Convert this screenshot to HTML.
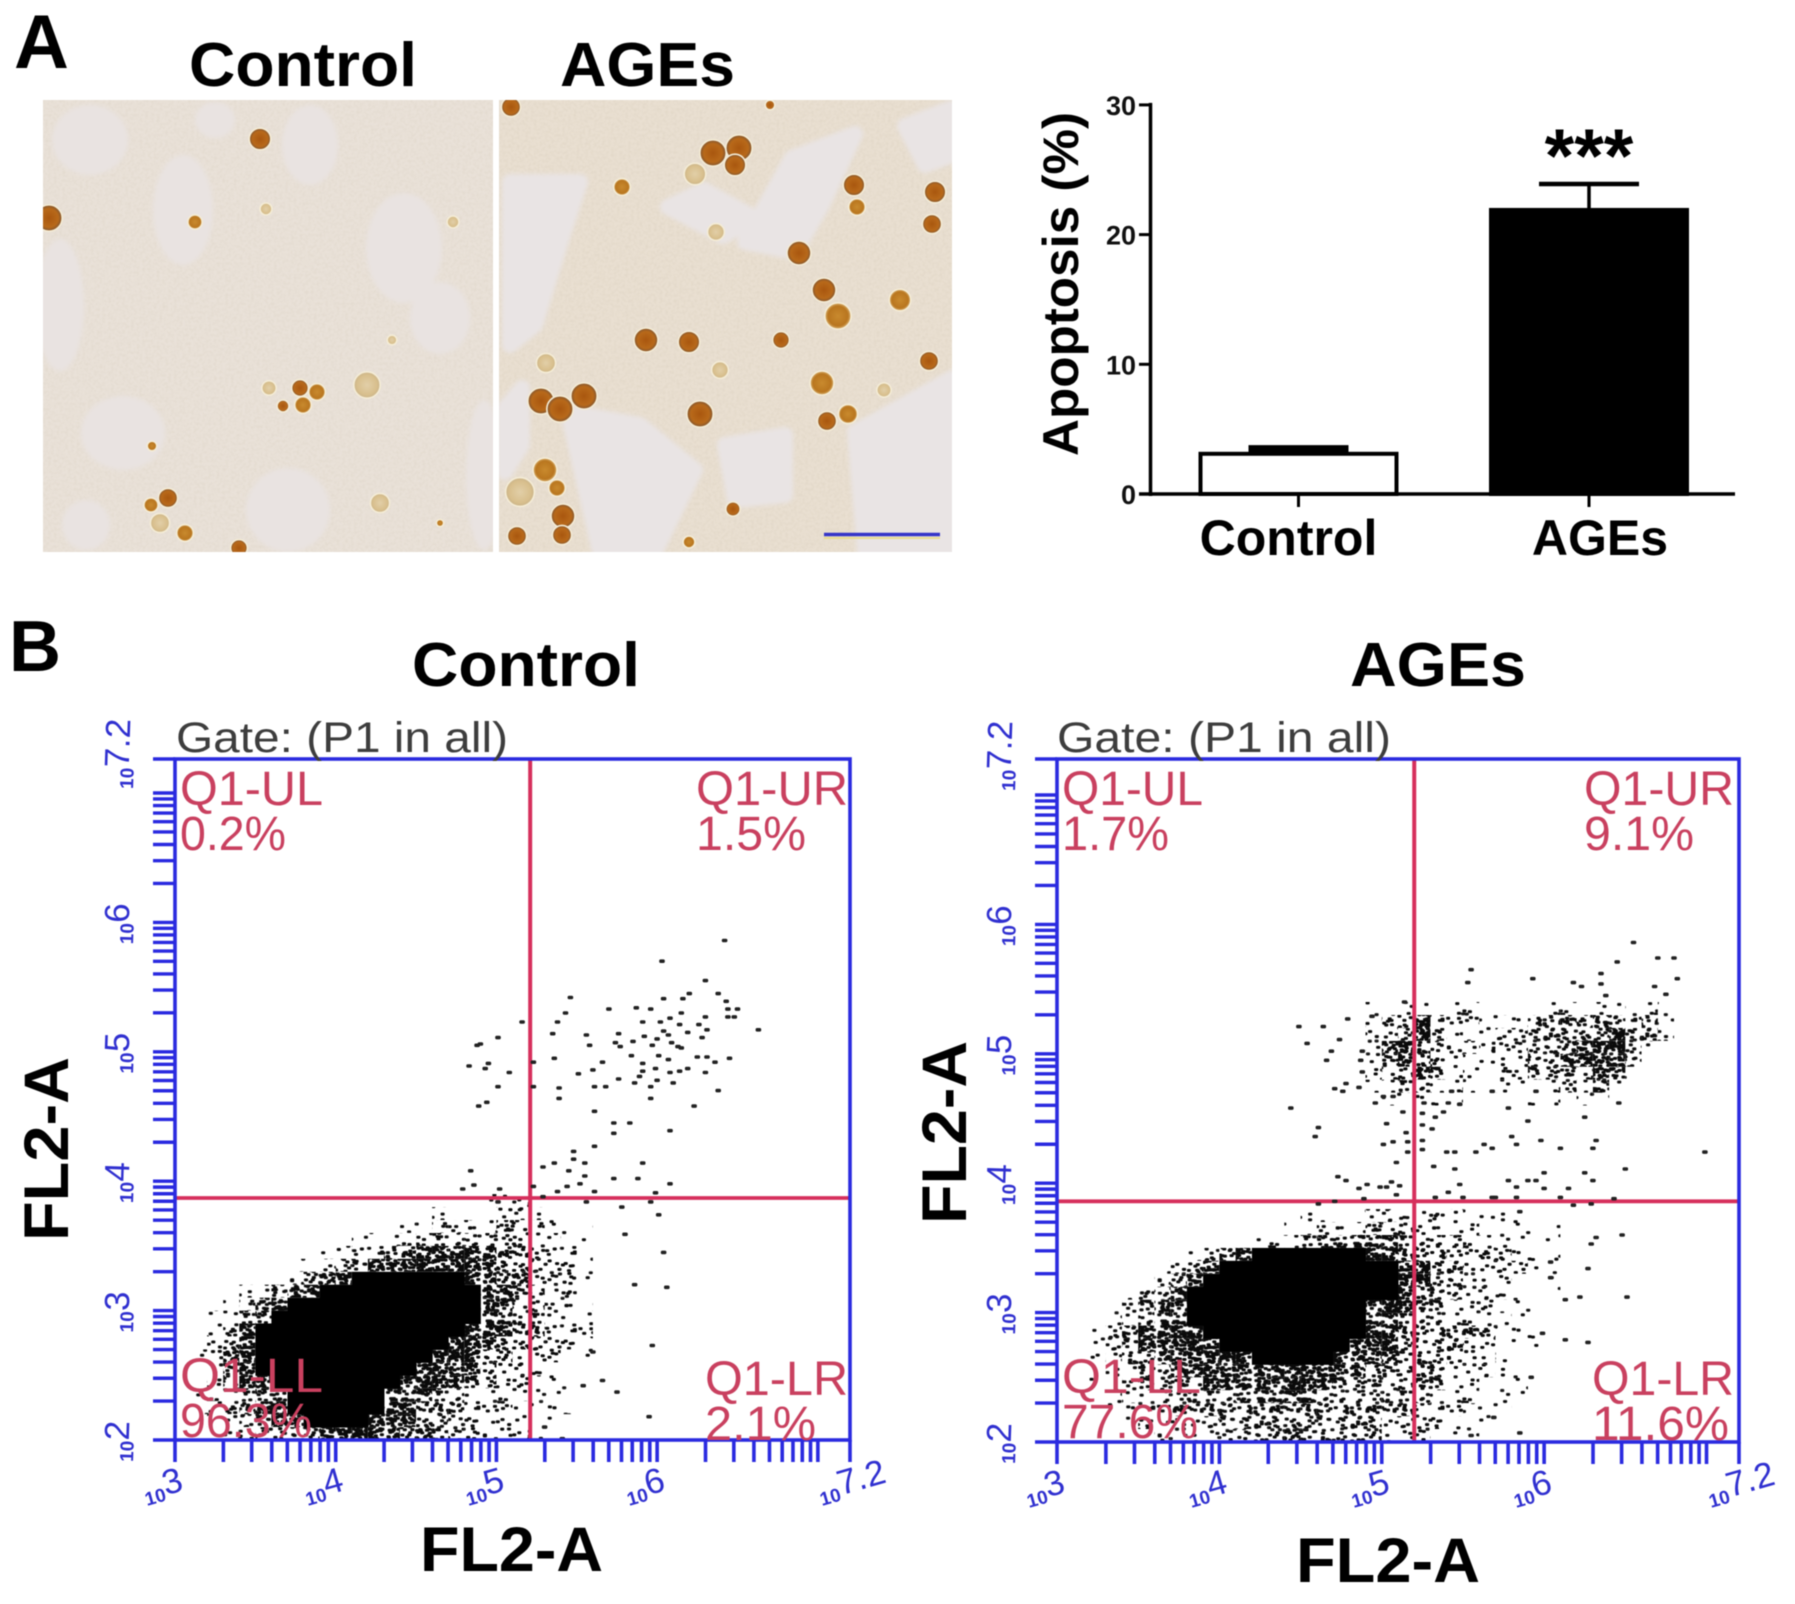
<!DOCTYPE html>
<html lang="en">
<head>
<meta charset="utf-8">
<title>AGEs apoptosis figure</title>
<style>
html,body{margin:0;padding:0;background:#fff;}
#figure{display:block;width:1795px;height:1604px;filter:blur(0.6px);}
text{font-family:"Liberation Sans",Arial,sans-serif;}
.h{font-weight:bold;fill:#000;}
.q{font-size:48px;fill:#c9405f;}
.g{font-size:43px;fill:#3d3d3d;}
</style>
</head>
<body>
<svg id="figure" xmlns="http://www.w3.org/2000/svg" width="1795" height="1604" viewBox="0 0 1795 1604">
  <defs id="defs">
    <clipPath id="clip-photo-1"><rect x="43" y="100" width="450" height="452"/></clipPath>
    <clipPath id="clip-photo-2"><rect x="499" y="100" width="453" height="452"/></clipPath>
    <radialGradient id="cell-dark"><stop offset="0" stop-color="#a9570f"/><stop offset=".7" stop-color="#b8691a"/><stop offset="1" stop-color="#7d5330"/></radialGradient>
    <radialGradient id="cell-mid"><stop offset="0" stop-color="#c98a2e"/><stop offset=".75" stop-color="#b9761f"/><stop offset="1" stop-color="#d9b271"/></radialGradient>
    <radialGradient id="cell-pale"><stop offset="0" stop-color="#e2cfa8"/><stop offset=".75" stop-color="#d8bf8d"/><stop offset="1" stop-color="#c9b38a"/></radialGradient>
    <filter id="grain" x="0" y="0" width="100%" height="100%"><feTurbulence type="fractalNoise" baseFrequency="0.35" numOctaves="2" seed="4"/><feColorMatrix type="matrix" values="0 0 0 0 .55  0 0 0 0 .48  0 0 0 0 .36  0 0 0 1.1 -.42"/></filter>
    <filter id="soft" x="-10%" y="-10%" width="120%" height="120%"><feGaussianBlur stdDeviation="2"/></filter>
  </defs>

  <!-- Panel A -->
  <text class="h" x="14" y="68" font-size="76">A</text>
  <text class="h" x="189" y="86" font-size="62" textLength="228" lengthAdjust="spacingAndGlyphs">Control</text>
  <text class="h" x="560" y="86" font-size="62" textLength="175" lengthAdjust="spacingAndGlyphs">AGEs</text>

  <g id="photo-1" clip-path="url(#clip-photo-1)">
    <rect x="43" y="100" width="450" height="452" fill="#e9e1d8"/>
    <rect x="43" y="100" width="450" height="452" filter="url(#grain)" opacity=".3"/>
    <g id="photo-1-patches" fill="#e9e3e1" filter="url(#soft)"></g>
    <g id="photo-1-cells"></g>
  </g>
  <g id="photo-2" clip-path="url(#clip-photo-2)">
    <rect x="499" y="100" width="453" height="452" fill="#e9dfd1"/>
    <rect x="499" y="100" width="453" height="452" filter="url(#grain)" opacity=".35"/>
    <g id="photo-2-patches" fill="#e9e4e4" stroke="#e9e4e4" stroke-width="16" stroke-linejoin="round" filter="url(#soft)"></g>
    <g id="photo-2-cells"></g>
    <line x1="824" y1="538" x2="940" y2="538" stroke="#e8dc90" stroke-width="2"/>
    <line x1="824" y1="534.5" x2="940" y2="534.5" stroke="#3535c8" stroke-width="3.5"/>
  </g>

  <g id="bar-chart"></g>
  <text class="h" transform="translate(1078,456) rotate(-90)" font-size="50" textLength="344" lengthAdjust="spacingAndGlyphs">Apoptosis  (%)</text>
  <text class="h" x="1589" y="182" font-size="76" text-anchor="middle">***</text>

  <!-- Panel B -->
  <text class="h" x="9" y="671" font-size="72">B</text>
  <text class="h" x="412" y="686" font-size="62" textLength="228" lengthAdjust="spacingAndGlyphs">Control</text>
  <text class="h" x="1350" y="686" font-size="62" textLength="176" lengthAdjust="spacingAndGlyphs">AGEs</text>

  <g id="plot-control"></g>
  <g id="plot-ages"></g>

  <text class="g" x="176" y="752" textLength="332" lengthAdjust="spacingAndGlyphs">Gate: (P1 in all)</text>
  <text class="q" x="180" y="805" textLength="143" lengthAdjust="spacingAndGlyphs">Q1-UL</text>
  <text class="q" x="180" y="850" textLength="106" lengthAdjust="spacingAndGlyphs">0.2%</text>
  <text class="q" x="696" y="805" textLength="152" lengthAdjust="spacingAndGlyphs">Q1-UR</text>
  <text class="q" x="696" y="850" textLength="110" lengthAdjust="spacingAndGlyphs">1.5%</text>
  <text class="q" x="180" y="1392" textLength="143" lengthAdjust="spacingAndGlyphs">Q1-LL</text>
  <text class="q" x="180" y="1437" textLength="132" lengthAdjust="spacingAndGlyphs">96.3%</text>
  <text class="q" x="705" y="1395" textLength="143" lengthAdjust="spacingAndGlyphs">Q1-LR</text>
  <text class="q" x="705" y="1440" textLength="111" lengthAdjust="spacingAndGlyphs">2.1%</text>

  <text class="g" x="1057" y="752" textLength="334" lengthAdjust="spacingAndGlyphs">Gate: (P1 in all)</text>
  <text class="q" x="1062" y="805" textLength="141" lengthAdjust="spacingAndGlyphs">Q1-UL</text>
  <text class="q" x="1062" y="850" textLength="107" lengthAdjust="spacingAndGlyphs">1.7%</text>
  <text class="q" x="1584" y="805" textLength="150" lengthAdjust="spacingAndGlyphs">Q1-UR</text>
  <text class="q" x="1584" y="850" textLength="110" lengthAdjust="spacingAndGlyphs">9.1%</text>
  <text class="q" x="1062" y="1393" textLength="139" lengthAdjust="spacingAndGlyphs">Q1-LL</text>
  <text class="q" x="1062" y="1438" textLength="136" lengthAdjust="spacingAndGlyphs">77.6%</text>
  <text class="q" x="1592" y="1395" textLength="142" lengthAdjust="spacingAndGlyphs">Q1-LR</text>
  <text class="q" x="1592" y="1440" textLength="137" lengthAdjust="spacingAndGlyphs">11.6%</text>

  <text class="h" transform="translate(68,1241) rotate(-90)" font-size="63" textLength="184" lengthAdjust="spacingAndGlyphs">FL2-A</text>
  <text class="h" x="420" y="1571" font-size="63" textLength="183" lengthAdjust="spacingAndGlyphs">FL2-A</text>
  <text class="h" transform="translate(966,1224) rotate(-90)" font-size="63" textLength="183" lengthAdjust="spacingAndGlyphs">FL2-A</text>
  <text class="h" x="1296" y="1582" font-size="63" textLength="184" lengthAdjust="spacingAndGlyphs">FL2-A</text>
</svg>

<script>
// ---- Bar chart data ----
const barCategories = ['Control', 'AGEs'];
const barMeans = [3.1, 21.9];
const barErrors = [0.4, 2.0];
const barTicks = [0, 10, 20, 30];

// ---- Flow cytometry data: log10(FL2-A) values ----
const flowXTicks = [3, 4, 5, 6, 7.2];
const flowYTicks = [2, 3, 4, 5, 6, 7.2];
const controlGateX = 5.21;
const controlGateY = 3.87;
const agesGateX = 5.2;
const agesGateY = 3.86;

// Event density per 0.1 x 0.1 decade cell (0 empty ... 5 solid), rows top to bottom, from x=3, top y=3.9
const controlDensity = [
  "000000000000000000111100000",
  "000000000000000011112211100",
  "000000000000001122223321110",
  "000000000001122333333322110",
  "000000000112233444443322210",
  "000000011233444444443322210",
  "000000123345555555443322210",
  "000012344555555555544332210",
  "000123455555555555544332210",
  "001234555555555555544332220",
  "001245555555555555444332220",
  "002345555555555554443322210",
  "012345555555555544433222110",
  "012345555555555444432221110",
  "012344555555554444332211100",
  "012234455555544433222211100",
  "011234455555544333222111100",
  "001123445555444332222111000",
  "000112233444443332222111000"
];
// Rows top to bottom, from x=3, top y=3.8
const agesDensity = [
  "00000000000000011112222221111100",
  "00000000000000112223332222111110",
  "00000000000012234444433332211110",
  "00000000123455555554433322221110",
  "00000012345555555555544332222110",
  "00000123455555555555544332221110",
  "00001234555555555555543332221110",
  "00012344555555555554443322211100",
  "00012344555555555554433322221100",
  "00123444455555555554433333211100",
  "00123444445555555544433332211100",
  "00123344444455555444333322211000",
  "00012334444444444443333322211000",
  "00112333344444444333333322111000",
  "00112233333444443333333222111000",
  "00011223333333333333332221110000",
  "00001222223333333333222211100000",
  "00000122222233333333222111000000"
];
// Upper cluster of the AGEs sample, rows top to bottom, from x=4.9, top y=5.4
const agesUpperDensity = [
  "10111221001221112210",
  "12242221113332332310",
  "22343211223333343320",
  "23432221223334443100",
  "23432211123344443000",
  "23343211223333431000",
  "12332211111232410000",
  "01111100001101100000"
];

// Individually readable events, [log10 x, log10 y]
const controlEvents = [
[6.42,5.86],[6.03,5.70],[6.30,5.55],[6.38,5.45],[6.20,5.45],[6.16,5.41],[6.04,5.41],[6.43,5.39],[5.46,5.42],[5.43,5.30],
[5.70,5.33],[5.87,5.34],[5.96,5.33],[6.44,5.33],[6.50,5.33],[6.44,5.27],[6.48,5.27],[6.30,5.27],[6.15,5.30],[6.08,5.26],
[6.02,5.23],[5.91,5.23],[5.38,5.23],[5.16,5.23],[6.14,5.21],[6.26,5.21],[6.31,5.17],[6.19,5.15],[6.63,5.17],[6.04,5.16],
[6.07,5.13],[5.76,5.14],[5.35,5.14],[5.56,5.13],[5.92,5.12],[6.00,5.10],[6.28,5.11],[5.01,5.11],[4.90,5.06],[4.88,5.05],
[5.58,5.05],[5.77,5.04],[5.74,5.07],[5.85,5.08],[5.97,5.05],[6.13,5.04],[6.15,5.03],[6.09,5.07],[5.84,4.97],[6.01,4.97],
[6.07,4.94],[6.25,4.96],[6.31,4.96],[6.45,4.95],[5.36,4.95],[5.23,4.92],[5.66,4.92],[6.36,4.92],[5.91,4.91],[4.95,4.91],
[4.93,4.87],[4.83,4.89],[5.08,4.84],[5.60,4.86],[5.51,4.83],[5.91,4.85],[5.89,4.81],[5.99,4.87],[6.08,4.84],[6.14,4.85],
[6.19,4.87],[6.30,4.84],[5.76,4.79],[6.00,4.78],[5.86,4.76],[6.10,4.76],[5.61,4.73],[5.68,4.73],[5.96,4.73],[5.01,4.73],
[5.23,4.73],[5.39,4.72],[6.38,4.70],[5.39,4.64],[5.96,4.64],[4.94,4.61],[4.89,4.58],[6.23,4.58],[5.61,4.54],[5.73,4.45],
[5.83,4.45],[5.73,4.37],[6.08,4.39],[5.61,4.27],[5.48,4.23],[5.48,4.17],[5.36,4.14],[5.55,4.14],[5.91,4.14],[5.29,4.11],
[5.45,4.08],[4.84,4.08],[5.55,4.04],[5.52,3.98],[5.73,4.02],[5.88,4.02],[6.08,3.98],[4.86,3.97],[4.79,3.94],[5.02,3.94],
[5.23,3.96],[5.44,3.96],[5.38,3.92],[5.61,3.92],[5.99,3.91],[5.29,3.88],[5.01,3.84],[5.56,3.84],[5.96,3.84],[5.78,3.80],
[6.01,3.74],[6.06,3.18],[5.97,2.73],[6.04,3.45],[5.86,3.20],[5.80,3.59],[5.66,2.46],[5.54,2.42],[5.75,2.37],[5.95,2.18],
[5.30,2.10],[5.41,2.01],[5.60,2.68]
];
const agesEvents = [
[6.55,5.86],[6.45,5.71],[6.70,5.74],[6.80,5.74],[6.82,5.58],[6.35,5.62],[6.35,5.54],[5.55,5.65],[5.53,5.55],[5.93,5.58],
[6.23,5.52],[6.18,5.55],[6.68,5.52],[6.75,5.46],[6.38,5.45],[5.14,5.40],[4.79,5.27],[4.94,5.29],[4.49,5.21],[4.64,5.21],
[4.74,5.11],[4.54,5.08],[4.69,5.02],[4.66,4.95],[4.88,5.02],[4.87,4.95],[4.71,4.73],[4.78,4.77],[4.76,4.71],[4.86,4.74],
[4.88,4.86],[4.44,4.58],[4.61,4.43],[4.59,4.36],[4.96,4.62],[5.01,4.67],[5.07,4.67],[5.13,4.55],[5.03,4.46],[5.15,4.39],
[5.16,4.32],[5.16,4.24],[5.01,4.30],[5.07,4.32],[5.09,4.16],[4.73,4.05],[4.78,4.02],[4.86,3.96],[4.91,3.99],[4.99,3.97],
[5.03,3.97],[5.06,4.01],[5.11,3.98],[5.09,3.91],[4.61,3.84],[4.71,3.86],[4.89,3.88],[5.26,4.62],[5.25,4.54],[5.25,4.45],
[5.31,4.42],[5.25,4.33],[5.25,4.26],[5.33,4.51],[5.38,4.55],[5.41,4.62],[5.48,4.61],[5.40,4.24],[5.45,4.24],[5.58,4.24],
[5.63,4.30],[5.68,4.27],[5.32,4.13],[5.45,4.11],[5.48,3.99],[5.41,3.93],[5.33,3.89],[5.50,3.89],[5.68,3.89],[5.70,3.89],
[5.78,4.02],[5.83,3.97],[5.83,3.89],[5.90,4.02],[5.95,4.02],[6.00,4.08],[6.00,3.96],[6.15,3.96],[6.10,3.89],[6.25,4.08],
[6.30,4.02],[6.50,4.11],[6.43,3.88],[6.29,3.84],[6.18,3.83],[5.85,3.78],[5.80,4.36],[5.83,4.30],[5.98,4.33],[6.10,4.27],
[6.30,4.27],[6.32,4.33],[6.99,4.24],[5.78,4.58],[5.90,4.48],[6.25,4.51],[6.46,4.62],[5.68,4.71],[5.95,4.71],[5.43,4.71],
[6.51,3.12],[6.48,3.60],[6.29,3.53],[6.27,3.34],[6.22,3.12],[6.13,3.10],[6.04,3.39],[5.99,2.84],[6.13,2.79],[6.27,2.77],
[5.92,2.50],[5.69,2.19],[5.55,2.05],[5.85,2.07],[6.32,3.58],[6.04,3.27]
];

// ---- Micrograph decoration ----
const photo1Patches = [[183,210,30,55],[404,248,38,55],[440,318,30,36],[60,305,24,66],[123,433,42,37],[86,525,24,25],[288,510,42,42],[484,475,18,75],[90,140,38,35],[310,145,28,40],[215,120,20,18]];
const photo2Patches = [
  "510,182 580,182 562,237 535,325 510,345",
  "668,207 704,190 755,218 723,236",
  "792,158 855,134 822,205 795,252 745,242",
  "568,412 640,425 695,470 655,552 600,552",
  "725,445 785,435 785,495 735,500",
  "855,432 952,378 952,552 865,552",
  "505,408 522,388 522,445 505,472",
  "905,126 952,108 952,155 925,165"
];
const photo1Cells = [[260,139,9,'dark'],[49,218,11,'dark'],[195,222,6,'mid'],[266,209,5,'pale'],[300,388,7,'dark'],[317,392,7,'mid'],[303,405,7,'mid'],[283,406,5,'dark'],[269,388,6,'pale'],[152,446,4,'mid'],[168,498,8,'dark'],[151,505,6,'mid'],[185,533,7,'mid'],[160,523,8,'pale'],[239,548,7,'dark'],[380,503,8,'pale'],[367,385,11,'pale'],[392,340,4,'pale'],[453,222,5,'pale'],[440,523,3,'mid']];
const photo2Cells = [[713,153,11,'dark'],[739,148,11,'dark'],[735,165,9,'dark'],[695,174,9,'pale'],[622,187,7,'mid'],[854,185,9,'dark'],[857,207,7,'mid'],[935,192,9,'dark'],[932,224,8,'dark'],[716,232,7,'pale'],[799,253,10,'dark'],[824,290,10,'dark'],[900,300,9,'mid'],[838,316,11,'mid'],[646,340,10,'dark'],[689,342,9,'dark'],[781,340,7,'dark'],[929,361,8,'dark'],[720,370,7,'pale'],[546,363,8,'pale'],[822,383,10,'mid'],[884,390,6,'pale'],[541,401,11,'dark'],[560,409,11,'dark'],[584,396,11,'dark'],[700,414,11,'dark'],[827,421,8,'dark'],[848,414,8,'mid'],[520,492,12,'pale'],[545,470,10,'mid'],[557,488,7,'mid'],[563,516,10,'dark'],[517,536,8,'dark'],[562,535,8,'dark'],[733,509,6,'dark'],[689,542,5,'mid'],[511,107,8,'dark'],[770,105,4,'dark']];

// ---- Helpers ----
const NS = 'http://www.w3.org/2000/svg';
function make(tag, attrs, parent) {
  const el = document.createElementNS(NS, tag);
  for (const k in attrs) el.setAttribute(k, attrs[k]);
  parent.appendChild(el);
  return el;
}
function label(el, name) {
  
  
}

// ---- Stipple textures for the density levels (visual texture only) ----
const defs = document.getElementById('defs');
const tileW = 96.4, tileH = 77.6;
const levelDots = [0, 40, 120, 280, 750];
function texHash(n) {
  const s = Math.sin(n * 12.9898) * 43758.5453;
  return s - Math.floor(s);
}
for (let lvl = 1; lvl <= 4; lvl++) {
  const pat = make('pattern', {id: 'lvl' + lvl, patternUnits: 'userSpaceOnUse', width: tileW, height: tileH}, defs);
  for (let i = 0; i < levelDots[lvl]; i++) {
    const px = texHash(i + lvl * 1000 + 0.37) * (tileW - 4);
    const py = texHash(i * 1.37 + lvl * 2000 + 0.71) * (tileH - 3);
    make('rect', {x: px.toFixed(1), y: py.toFixed(1), width: 4.2, height: 3, rx: 1.2, fill: '#0a0a0a'}, pat);
  }
}

// ---- Micrographs ----
const p1p = document.getElementById('photo-1-patches');
photo1Patches.forEach(p => {
  const e = make('ellipse', {cx: p[0], cy: p[1], rx: p[2], ry: p[3]}, p1p);
  label(e, 'pale-cell-area');
});
const p2p = document.getElementById('photo-2-patches');
photo2Patches.forEach(p => {
  const e = make('polygon', {points: p}, p2p);
  label(e, 'pale-cell-area');
});
function drawCells(list, id) {
  const g = document.getElementById(id);
  list.forEach(c => {
    const e = make('circle', {cx: c[0], cy: c[1], r: c[2] * 1.2, fill: 'url(#cell-' + c[3] + ')', stroke: '#f4ecd6', 'stroke-width': 1.6}, g);
    label(e, 'stained-cell');
  });
}
drawCells(photo1Cells, 'photo-1-cells');
drawCells(photo2Cells, 'photo-2-cells');

// ---- Bar chart ----
(function () {
  const g = document.getElementById('bar-chart');
  const baseY = 494, unit = 12.97;
  const yPos = v => baseY - v * unit;
  const xPos = i => 1298.5 + i * 290.5;
  const barW = 196;
  const fills = ['#fff', '#000'];
  barCategories.forEach((cat, i) => {
    const cx = xPos(i);
    const stem = make('line', {x1: cx, x2: cx, y1: yPos(barMeans[i]), y2: yPos(barMeans[i] + barErrors[i]), stroke: '#000', 'stroke-width': 3.5}, g);
    label(stem, 'error-stem-' + cat.toLowerCase());
    const cap = make('line', {x1: cx - 50, x2: cx + 50, y1: yPos(barMeans[i] + barErrors[i]), y2: yPos(barMeans[i] + barErrors[i]), stroke: '#000', 'stroke-width': i === 0 ? 7 : 4.5}, g);
    label(cap, 'error-cap-' + cat.toLowerCase());
    const bar = make('rect', {x: cx - barW / 2, y: yPos(barMeans[i]), width: barW, height: baseY - yPos(barMeans[i]), fill: fills[i], stroke: '#000', 'stroke-width': 4}, g);
    label(bar, 'bar-' + cat.toLowerCase());
    const tick = make('line', {x1: cx, x2: cx, y1: baseY, y2: 507, stroke: '#000', 'stroke-width': 3}, g);
    label(tick, 'x-tick-' + cat.toLowerCase());
    const txt = make('text', {x: cx + (i === 0 ? -10 : 11), y: 555, 'text-anchor': 'middle', 'font-size': 50, 'font-weight': 'bold', fill: '#000'}, g);
    txt.textContent = cat;
    label(txt, 'x-label-' + cat.toLowerCase());
  });
  const yAxis = make('line', {x1: 1150.5, x2: 1150.5, y1: yPos(30) - 2, y2: baseY + 2, stroke: '#000', 'stroke-width': 3.5}, g);
  label(yAxis, 'bar-y-axis');
  const xAxis = make('line', {x1: 1139, x2: 1735, y1: baseY, y2: baseY, stroke: '#000', 'stroke-width': 3.5}, g);
  label(xAxis, 'bar-x-axis');
  barTicks.forEach(t => {
    const tk = make('line', {x1: 1139, x2: 1150, y1: yPos(t), y2: yPos(t), stroke: '#000', 'stroke-width': 3}, g);
    label(tk, 'y-tick-' + t);
    const tl = make('text', {x: 1136, y: yPos(t) + 10, 'text-anchor': 'end', 'font-size': 27, 'font-weight': 'bold', fill: '#111'}, g);
    tl.textContent = t;
    label(tl, 'y-tick-label-' + t);
  });
})();

// ---- Flow plots ----
function drawFlow(id, left, right, bottom, top, gateX, gateY, grids, events) {
  const g = document.getElementById(id);
  const BLUE = '#2a2ae0', RED = '#d62f5c';
  const xScale = (right - left) / 4.2;
  const yScale = 129.4;
  const X = v => left + (v - 3) * xScale;
  const Y = v => bottom - (v - 2) * yScale;

  make('rect', {x: left, y: top, width: right - left, height: bottom - top, fill: '#fff'}, g);

  // density cells
  grids.forEach(grid => {
    const cw = 0.1 * xScale, ch = 0.1 * yScale;
    grid.rows.forEach((row, r) => {
      for (let c = 0; c < row.length; c++) {
        const d = +row[c];
        if (!d) continue;
        const vx = grid.x0 + 0.1 * c, vy = grid.top - 0.1 * r;
        const cell = make('rect', {
          x: X(vx).toFixed(1), y: Y(vy).toFixed(1),
          width: (cw + (d === 5 ? 0.5 : 0)).toFixed(2), height: (ch + (d === 5 ? 0.5 : 0)).toFixed(2),
          fill: d === 5 ? '#000' : 'url(#lvl' + d + ')'
        }, g);
        label(cell, 'event-density-cell');
      }
    });
  });

  // gates
  const vGate = make('line', {x1: X(gateX), x2: X(gateX), y1: top, y2: bottom, stroke: RED, 'stroke-width': 4}, g);
  label(vGate, 'vertical-gate-line');
  const hGate = make('line', {x1: left, x2: right, y1: Y(gateY), y2: Y(gateY), stroke: RED, 'stroke-width': 3.8}, g);
  label(hGate, 'horizontal-gate-line');

  // individual events
  events.forEach(ev => {
    const dot = make('rect', {x: (X(ev[0]) - 2.8).toFixed(1), y: (Y(ev[1]) - 1.8).toFixed(1), width: 5.6, height: 3.6, rx: 1.5, fill: '#222'}, g);
    label(dot, 'event-point');
  });

  // frame
  const frame = make('rect', {x: left, y: top, width: right - left, height: bottom - top, fill: 'none', stroke: BLUE, 'stroke-width': 3.6}, g);
  label(frame, 'plot-frame');
  const topExt = make('line', {x1: left - 22, x2: left, y1: top, y2: top, stroke: BLUE, 'stroke-width': 3.6}, g);
  label(topExt, 'y-axis-top-extension');

  // log ticks
  for (let d = 3; d <= 7; d++) {
    for (let k = 1; k <= 9; k++) {
      const v = d + Math.log10(k);
      if (v > 7.2) continue;
      const t = make('line', {x1: X(v), x2: X(v), y1: bottom, y2: bottom + 22, stroke: BLUE, 'stroke-width': 3.6}, g);
      label(t, 'x-log-tick');
    }
  }
  const endTick = make('line', {x1: X(7.2), x2: X(7.2), y1: bottom, y2: bottom + 22, stroke: BLUE, 'stroke-width': 3.6}, g);
  label(endTick, 'x-log-tick');
  for (let d = 2; d <= 7; d++) {
    for (let k = 1; k <= 9; k++) {
      const v = d + Math.log10(k);
      if (v > 7.05) continue;
      const t = make('line', {x1: left - 22, x2: left, y1: Y(v), y2: Y(v), stroke: BLUE, 'stroke-width': 3.4}, g);
      label(t, 'y-log-tick');
    }
  }

  // tick labels
  flowXTicks.forEach(v => {
    const t = make('text', {transform: 'translate(' + (X(v) - 28) + ',' + (bottom + 66) + ') rotate(-16)', fill: '#3030d0', 'font-size': 19, 'font-weight': 'bold'}, g);
    t.textContent = '10';
    const s = make('tspan', {'font-size': 35, 'font-weight': 'normal', dy: -5}, t);
    s.textContent = v;
    label(t, 'x-tick-label');
  });
  flowYTicks.forEach(v => {
    const t = make('text', {transform: 'translate(' + (left - 42) + ',' + (Y(v) + 22) + ') rotate(-88)', fill: '#3030d0', 'font-size': 19, 'font-weight': 'bold'}, g);
    t.textContent = '10';
    const s = make('tspan', {'font-size': 35, 'font-weight': 'normal', dy: -5}, t);
    s.textContent = v;
    label(t, 'y-tick-label');
  });
}

drawFlow('plot-control', 175, 850, 1440, 759, controlGateX, controlGateY,
  [{x0: 3, top: 3.9, rows: controlDensity}], controlEvents);
drawFlow('plot-ages', 1057, 1739, 1442, 759, agesGateX, agesGateY,
  [{x0: 3, top: 3.8, rows: agesDensity}, {x0: 4.9, top: 5.4, rows: agesUpperDensity}], agesEvents);
</script>
</body>
</html>
